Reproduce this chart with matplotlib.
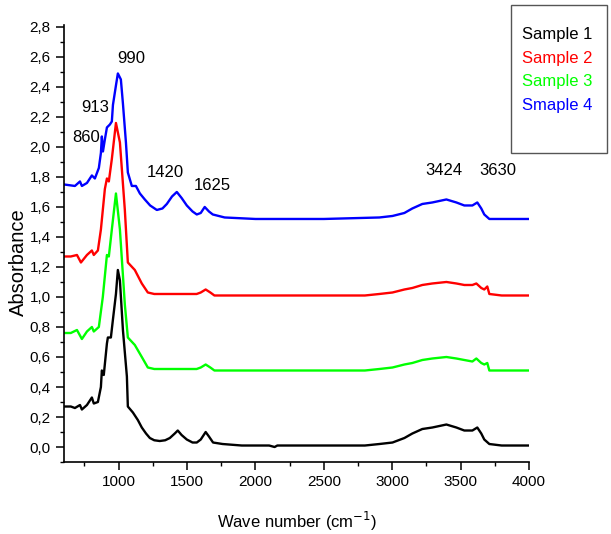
import matplotlib
matplotlib.use("Agg")
import matplotlib.pyplot as plt
from matplotlib.ticker import MultipleLocator, FuncFormatter
from matplotlib.patches import Rectangle

plt.rcParams['font.family'] = ['Liberation Sans', 'DejaVu Sans']

# Sample 1 (black)
s1_x = [600, 650, 680, 717, 731, 768, 804, 818, 848, 870, 877, 891, 914, 921, 943, 958, 980, 994, 1009, 1031, 1060, 1067, 1104, 1140, 1169, 1200, 1228, 1260, 1300, 1340, 1374, 1410, 1432, 1460, 1498, 1540, 1571, 1600, 1636, 1660, 1690, 1760, 1900, 2100, 2140, 2160, 2300, 2600, 2800, 2906, 3002, 3089, 3147, 3220, 3293, 3396, 3469, 3527, 3586, 3622, 3651, 3673, 3710, 3800, 3900, 4000]
s1_y = [0.27, 0.27, 0.26, 0.28, 0.25, 0.28, 0.33, 0.29, 0.30, 0.40, 0.51, 0.48, 0.69, 0.73, 0.73, 0.85, 1.02, 1.18, 1.11, 0.78, 0.47, 0.27, 0.23, 0.18, 0.13, 0.09, 0.06, 0.045, 0.04, 0.045, 0.06, 0.09, 0.11, 0.08, 0.05, 0.03, 0.03, 0.05, 0.10, 0.07, 0.03, 0.02, 0.01, 0.01, 0.00, 0.01, 0.01, 0.01, 0.01, 0.02, 0.03, 0.06, 0.09, 0.12, 0.13, 0.15, 0.13, 0.11, 0.11, 0.13, 0.09, 0.05, 0.02, 0.01, 0.01, 0.01]

# Sample 2 (red)
s2_x = [600, 650, 695, 724, 768, 804, 818, 848, 870, 899, 914, 928, 950, 980, 1009, 1045, 1067, 1118, 1169, 1213, 1260, 1400, 1570, 1600, 1636, 1670, 1700, 2000, 2500, 2800, 2906, 3002, 3089, 3147, 3220, 3293, 3396, 3469, 3527, 3586, 3615, 3651, 3673, 3695, 3710, 3800, 4000]
s2_y = [1.27, 1.27, 1.28, 1.23, 1.28, 1.31, 1.28, 1.31, 1.45, 1.72, 1.79, 1.77, 1.92, 2.16, 2.03, 1.58, 1.23, 1.18, 1.09, 1.03, 1.02, 1.02, 1.02, 1.03, 1.05, 1.03, 1.01, 1.01, 1.01, 1.01, 1.02, 1.03, 1.05, 1.06, 1.08, 1.09, 1.10, 1.09, 1.08, 1.08, 1.09, 1.06, 1.05, 1.07, 1.02, 1.01, 1.01]

# Sample 3 (green)
s3_x = [600, 650, 695, 731, 768, 804, 818, 855, 884, 914, 928, 950, 980, 1009, 1045, 1067, 1118, 1169, 1213, 1260, 1400, 1570, 1600, 1636, 1670, 1700, 2000, 2500, 2800, 2906, 3002, 3089, 3147, 3220, 3293, 3396, 3469, 3527, 3586, 3615, 3651, 3673, 3695, 3710, 3800, 4000]
s3_y = [0.76, 0.76, 0.78, 0.72, 0.77, 0.80, 0.77, 0.80, 1.00, 1.28, 1.27, 1.45, 1.69, 1.45, 0.95, 0.73, 0.68, 0.60, 0.53, 0.52, 0.52, 0.52, 0.53, 0.55, 0.53, 0.51, 0.51, 0.51, 0.51, 0.52, 0.53, 0.55, 0.56, 0.58, 0.59, 0.60, 0.59, 0.58, 0.57, 0.59, 0.56, 0.55, 0.56, 0.51, 0.51, 0.51]

# Sample 4 (blue)
s4_x = [600, 680, 717, 731, 768, 804, 826, 855, 870, 877, 885, 899, 914, 936, 950, 958, 980, 994, 1016, 1031, 1053, 1067, 1096, 1126, 1155, 1191, 1230, 1279, 1320, 1352, 1390, 1425, 1460, 1498, 1540, 1571, 1600, 1629, 1660, 1688, 1775, 2000, 2500, 2906, 3002, 3089, 3147, 3220, 3293, 3396, 3469, 3527, 3586, 3622, 3651, 3673, 3710, 3800, 4000]
s4_y = [1.75, 1.74, 1.77, 1.74, 1.76, 1.81, 1.79, 1.86, 1.96, 2.07, 1.97, 2.05, 2.13, 2.15, 2.17, 2.28, 2.41, 2.49, 2.45, 2.29, 2.03, 1.83, 1.74, 1.74, 1.69, 1.65, 1.61, 1.58, 1.59, 1.62, 1.67, 1.70, 1.66, 1.61, 1.57, 1.55, 1.56, 1.60, 1.57, 1.55, 1.53, 1.52, 1.52, 1.53, 1.54, 1.56, 1.59, 1.62, 1.63, 1.65, 1.63, 1.61, 1.61, 1.63, 1.59, 1.55, 1.52, 1.52, 1.52]

labels = ['Sample 1', 'Sample 2', 'Sample 3', 'Smaple 4']
colors = ['#000000', '#ff0000', '#00ff00', '#0000ff']

peak_labels = ['860', '913', '990', '1420', '1625', '3424', '3630']
peak_x = [760, 830, 1095, 1340, 1685, 3380, 3770]
peak_y = [2.06, 2.26, 2.59, 1.83, 1.74, 1.84, 1.84]

fig = plt.figure(figsize=(6.11, 5.34), dpi=100)
ax = fig.add_axes([0.1047, 0.1348, 0.7611, 0.8184])

series = [(s1_x, s1_y), (s2_x, s2_y), (s3_x, s3_y), (s4_x, s4_y)]
for (xs, ys), c in zip(series, colors):
    ax.plot(xs, ys, color=c, lw=1.7, solid_joinstyle='round')

ax.set_xlim(600, 4000)
ax.set_ylim(-0.1, 2.813)
ax.xaxis.set_minor_locator(MultipleLocator(250))
ax.yaxis.set_minor_locator(MultipleLocator(0.1))
ax.set_yticks([i * 0.2 for i in range(15)])
ax.set_xticks([1000, 1500, 2000, 2500, 3000, 3500, 4000])
ax.yaxis.set_major_formatter(FuncFormatter(lambda v, p: f"{v:.1f}".replace('.', ',')))
ax.xaxis.set_major_formatter(FuncFormatter(lambda v, p: f"{int(round(v))}"))
ax.spines['top'].set_visible(False)
ax.spines['right'].set_visible(False)
for s in ['left', 'bottom']:
    ax.spines[s].set_linewidth(1.2)
ax.tick_params(which='major', direction='out', length=6, width=1.1, labelsize=11)
ax.tick_params(which='minor', direction='out', length=3, width=1.0)

fig.text(297 / 611, 1 - 521 / 534, r'Wave number (cm$^{-1}$)', ha='center', va='center', fontsize=12)
fig.text(18 / 611, 1 - 262 / 534, 'Absorbance', ha='center', va='center', rotation=90, fontsize=14.5)

for t, x, y in zip(peak_labels, peak_x, peak_y):
    ax.text(x, y, t, ha='center', va='center', fontsize=12)

# legend box
rect = Rectangle((511 / 611, 1 - 153 / 534), (607 - 511) / 611, (153 - 5) / 534,
                 transform=fig.transFigure, fill=False, edgecolor='#555555', lw=1.0)
fig.patches.append(rect)
for i, (lab, c) in enumerate(zip(labels, colors)):
    fig.text(522 / 611, 1 - (35 + 23.5 * i) / 534, lab, color=c, fontsize=12, ha='left', va='center')

fig.savefig('out.png', dpi=100)
